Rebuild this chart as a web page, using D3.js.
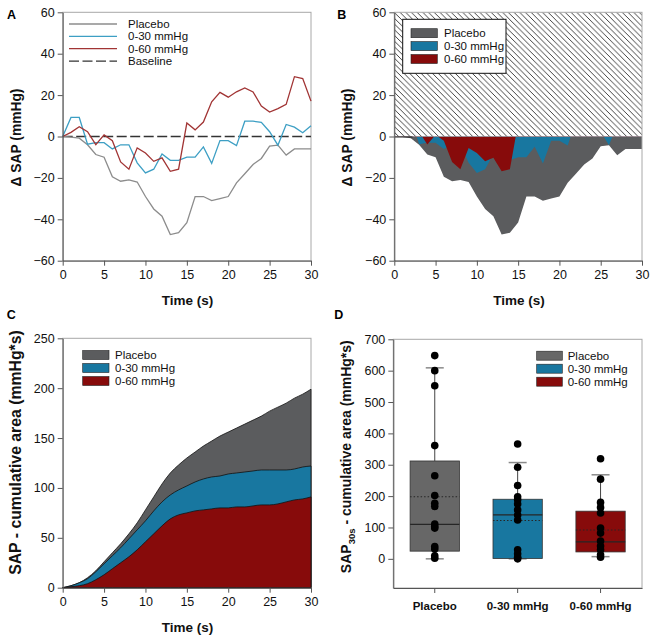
<!DOCTYPE html>
<html><head><meta charset="utf-8">
<script src="https://cdn.jsdelivr.net/npm/d3@7/dist/d3.min.js"></script>
<style>body{margin:0;background:#fff} text{font-family:"Liberation Sans",Arial,sans-serif}</style>
</head><body><svg id="c" width="656" height="642"></svg>
<script>
// ---------- DATA ----------
const timeS = [0,1,2,3,4,5,6,7,8,9,10,11,12,13,14,15,16,17,18,19,20,21,22,23,24,25,26,27,28,29,30];
const seriesNames = ["Placebo","0-30 mmHg","0-60 mmHg"];
// Panel A/B: delta SAP (mmHg)
const placeboDelta = [0,-0.3,-0.8,-4,-8.7,-10,-19.5,-21.6,-21,-22,-29,-35,-38.5,-47.4,-46.5,-41.6,-29,-29,-31,-30,-29,-22.4,-18,-13.5,-10.6,-4.7,-4.2,-9,-6,-6,-6];
const low30Delta   = [0,9.2,9.2,-3.7,-3,-3,-6,-4,-4,-12.7,-17.6,-15.8,-8.4,-11.5,-11.5,-10,-10,-5,-13,-2,-2,-4.4,7.4,7.4,6.8,2.3,-4.2,5.8,4.5,1.8,5.2];
const low60Delta   = [0,2,4.7,2.3,-3.9,0.8,-2,-12.3,-15.8,-5.5,-8,-12,-10.3,-16.8,-15.8,6.5,3.2,7,16.8,21.3,19,21.6,23.5,21.5,14.7,11.8,13.5,15.5,28.9,28,17.1];
// Panel C: cumulative area (mmHg*s)
const placeboCum = [0,2,5,10,17,26,35,44,54,65,78,91,104,115,123,130,136,142,147,152,156,160,164,168,172,177,181,185,190,194,199];
const low30Cum   = [0,2,5,9,16,24,32,40,49,58,67,77,86,93,98,102,106,109,111,112,114,115,116,117,118,118,118,118,119,121,122];
const low60Cum   = [0,1,2,4,8,13,19,25,31,38,46,54,62,69,73,75,77,78,79,80,80,81,81,82,83,83,84,86,88,89,91];
// Panel D: box plots (mmHg*s)
const boxQ1 = [24.5, 1, 22];
const boxMedian = [110, 140, 54];
const boxQ3 = [312, 190, 152];
const boxMean = [198, 122, 92];
const whiskerLow = [0, 0, 7];
const whiskerHigh = [609, 307, 268];
const dotsPlacebo = [648,600,552,361,265,202,177,167,111,103,98,39,31,10,2];
const dots030 = [366,292,234,198,188,175,156,140,124,29,16,5,0];
const dots060 = [319,254,180,164,146,98,82,57,41,29,13,5];
// tick values
const ticksTime = [0,5,10,15,20,25,30];
const ticksDelta = [-60,-40,-20,0,20,40,60];
const ticksCum = [0,50,100,150,200,250];
const ticksBox = [0,100,200,300,400,500,600,700];

// ---------- STYLE ----------
const areaColors = ["#5b5c5e","#1877a0","#870b0b"];
const lineColors = ["#8c8c8c","#3d9fc4","#a13434"];
const boxColors = ["#676767","#1877a0","#870b0b"];
const svg = d3.select("#c");

const defs = svg.append("defs");
const pat = defs.append("pattern").attr("id","hatch").attr("patternUnits","userSpaceOnUse")
  .attr("width",5.7).attr("height",5.7);
pat.append("path").attr("d","M0,0L5.7,5.7M-1,4.7L1,6.7M4.7,-1L6.7,1").attr("stroke","#222").attr("stroke-width",0.85);

function frame(g, x, y){
  const [x0,x1]=x.range(), [y1,y0]=y.range();
  g.append("rect").attr("x",x0).attr("y",y0).attr("width",x1-x0).attr("height",y1-y0)
    .attr("fill","none").attr("stroke","#a8a8a8").attr("stroke-width",1);
}
function axes(g, x, y, xt, yt){
  const [y1]=y.range(); const [x0]=x.range();
  const ax = g.append("g").attr("transform",`translate(0,${y1})`)
    .call(d3.axisBottom(x).tickValues(xt).tickSize(5).tickPadding(4).tickSizeOuter(0));
  const ay = g.append("g").attr("transform",`translate(${x0},0)`)
    .call(d3.axisLeft(y).tickValues(yt).tickSize(5).tickPadding(3).tickSizeOuter(0));
  [ax,ay].forEach(a=>{
    a.selectAll("text").attr("font-size",12.5).attr("fill","#111").style("font-family","Liberation Sans, Arial, sans-serif");
    a.selectAll("line").attr("stroke","#555");
    a.select(".domain").attr("stroke","#555");
  });
}
function title(x,y,txt,size,rot){
  const t = svg.append("text").attr("font-weight","bold").attr("font-size",size).attr("fill","#111")
    .attr("text-anchor","middle");
  if(rot) t.attr("transform",`translate(${x},${y}) rotate(-90)`); else t.attr("x",x).attr("y",y);
  t.text(txt); return t;
}
function letter(x,y,l){ svg.append("text").attr("x",x).attr("y",y).attr("font-weight","bold").attr("font-size",12.5).text(l); }

// ---------- PANEL A ----------
{
  const x = d3.scaleLinear([0,30],[62.7,311]);
  const y = d3.scaleLinear([-60,60],[260.7,12.3]);
  const g = svg.append("g");
  frame(g,x,y);
  g.append("line").attr("x1",x(0)).attr("x2",x(30)).attr("y1",y(0)).attr("y2",y(0))
    .attr("stroke","#333").attr("stroke-width",1.3).attr("stroke-dasharray","10,3.5");
  const line = d3.line().x((d,i)=>x(timeS[i])).y(d=>y(d));
  [placeboDelta, low30Delta, low60Delta].forEach((s,k)=>{
    g.append("path").attr("d",line(s)).attr("fill","none").attr("stroke",lineColors[k]).attr("stroke-width",1.3);
  });
  axes(g,x,y,ticksTime,ticksDelta);
  const labels = seriesNames.concat(["Baseline"]);
  labels.forEach((n,i)=>{
    const yy = 24 + i*12.35;
    g.append("line").attr("x1",69).attr("x2",117).attr("y1",yy).attr("y2",yy)
      .attr("stroke", i<3?lineColors[i]:"#333").attr("stroke-width",1.3)
      .attr("stroke-dasharray", i<3?null:"10,3.5");
    g.append("text").attr("x",128).attr("y",yy+4).attr("font-size",11.5).attr("fill","#111").text(n);
  });
  title(187.5,305,"Time (s)",13.5);
  title(20.5,137.5,"Δ SAP (mmHg)",13.8,true);
  letter(7,18.5,"A");
}

// ---------- PANEL B ----------
{
  const x = d3.scaleLinear([0,30],[394.3,642]);
  const y = d3.scaleLinear([-60,60],[260.7,12.3]);
  const g = svg.append("g");
  defs.append("clipPath").attr("id","below").append("rect")
    .attr("x",x(0)).attr("y",y(0)).attr("width",x(30)-x(0)).attr("height",y(-60)-y(0));
  g.append("rect").attr("x",x(0)).attr("y",y(60)).attr("width",x(30)-x(0)).attr("height",y(0)-y(60))
    .attr("fill","url(#hatch)");
  const area = d3.area().x((d,i)=>x(timeS[i])).y0(y(0)).y1(d=>y(d));
  const ga = g.append("g").attr("clip-path","url(#below)");
  [placeboDelta, low30Delta, low60Delta].forEach((s,k)=>{
    ga.append("path").attr("d",area(s)).attr("fill",areaColors[k]);
  });
  g.append("line").attr("x1",x(0)).attr("x2",x(2.2)).attr("y1",y(0)+0.5).attr("y2",y(0)+0.5).attr("stroke","#222").attr("stroke-width",1);
  frame(g,x,y);
  axes(g,x,y,ticksTime,ticksDelta);
  g.append("rect").attr("x",402.7).attr("y",19.3).attr("width",103.3).attr("height",54)
    .attr("fill","#fff").attr("stroke","#111").attr("stroke-width",1);
  seriesNames.forEach((n,i)=>{
    const yy = 33.2 + i*12.9;
    g.append("rect").attr("x",411).attr("y",yy-4.5).attr("width",26.3).attr("height",9)
      .attr("fill",areaColors[i]).attr("stroke","#222").attr("stroke-width",0.6);
    g.append("text").attr("x",444).attr("y",yy+4).attr("font-size",11.5).attr("fill","#111").text(n);
  });
  title(519,305,"Time (s)",13.5);
  title(351.5,137.5,"Δ SAP (mmHg)",13.8,true);
  letter(337.3,18.5,"B");
}

// ---------- PANEL C ----------
{
  const x = d3.scaleLinear([0,30],[62.7,311]);
  const y = d3.scaleLinear([0,250],[587.7,338.3]);
  const g = svg.append("g");
  frame(g,x,y);
  const area = d3.area().curve(d3.curveMonotoneX).x((d,i)=>x(timeS[i])).y0(y(0)).y1(d=>y(d));
  [placeboCum, low30Cum, low60Cum].forEach((s,k)=>{
    g.append("path").attr("d",area(s)).attr("fill",areaColors[k]).attr("stroke","#111").attr("stroke-width",0.8);
  });
  axes(g,x,y,ticksTime,ticksCum);
  seriesNames.forEach((n,i)=>{
    const yy = 355 + i*13;
    g.append("rect").attr("x",82.7).attr("y",yy-4.5).attr("width",26.3).attr("height",9)
      .attr("fill",areaColors[i]).attr("stroke","#222").attr("stroke-width",0.6);
    g.append("text").attr("x",115).attr("y",yy+4).attr("font-size",11.5).attr("fill","#111").text(n);
  });
  title(187.5,632,"Time (s)",13.5);
  title(20.5,452.5,"SAP - cumulative area (mmHg*s)",15.8,true);
  letter(6.7,319,"C");
}

// ---------- PANEL D ----------
{
  const x = d3.scaleBand(seriesNames,[393.3,642]);
  const y = d3.scaleLinear([-93,700],[588,339.3]);
  const g = svg.append("g");
  frame(g,x,y);
  const dots = [dotsPlacebo, dots030, dots060];
  const bw = 49.3;
  seriesNames.forEach((n,i)=>{
    const cx = x(n)+x.bandwidth()/2;
    g.append("line").attr("x1",cx).attr("x2",cx).attr("y1",y(boxQ3[i])).attr("y2",y(whiskerHigh[i])).attr("stroke","#444").attr("stroke-width",1);
    g.append("line").attr("x1",cx).attr("x2",cx).attr("y1",y(boxQ1[i])).attr("y2",y(whiskerLow[i])).attr("stroke","#444").attr("stroke-width",1);
    [whiskerHigh[i], whiskerLow[i]].forEach(v=>{
      g.append("line").attr("x1",cx-9).attr("x2",cx+9).attr("y1",y(v)).attr("y2",y(v)).attr("stroke","#8a8a8a").attr("stroke-width",1.5);
    });
    g.append("rect").attr("x",cx-bw/2).attr("y",y(boxQ3[i])).attr("width",bw).attr("height",y(boxQ1[i])-y(boxQ3[i]))
      .attr("fill",boxColors[i]).attr("stroke","#333").attr("stroke-width",0.8);
    g.append("line").attr("x1",cx-bw/2).attr("x2",cx+bw/2).attr("y1",y(boxMedian[i])).attr("y2",y(boxMedian[i])).attr("stroke","#262626").attr("stroke-width",1.2);
    g.append("line").attr("x1",cx-bw/2).attr("x2",cx+bw/2).attr("y1",y(boxMean[i])).attr("y2",y(boxMean[i])).attr("stroke","#262626").attr("stroke-width",1.1).attr("stroke-dasharray","1.5,2");
    g.selectAll(null).data(dots[i]).enter().append("circle").attr("cx",cx).attr("cy",d=>y(d)).attr("r",3.8).attr("fill","#000");
  });
  const ax = g.append("g").attr("transform",`translate(0,588)`)
    .call(d3.axisBottom(x).tickSize(5).tickPadding(9).tickSizeOuter(0));
  ax.selectAll("text").attr("font-size",11.5).attr("font-weight","bold").attr("fill","#111").style("font-family","Liberation Sans, Arial, sans-serif");
  ax.selectAll("line").attr("stroke","#555"); ax.select(".domain").attr("stroke","#555");
  const ay = g.append("g").attr("transform",`translate(393.3,0)`)
    .call(d3.axisLeft(y).tickValues(ticksBox).tickSize(5).tickPadding(3).tickSizeOuter(0));
  ay.selectAll("text").attr("font-size",12.5).attr("fill","#111").style("font-family","Liberation Sans, Arial, sans-serif");
  ay.selectAll("line").attr("stroke","#555"); ay.select(".domain").attr("stroke","#555");
  seriesNames.forEach((n,i)=>{
    const yy = 355.7 + i*13;
    g.append("rect").attr("x",536.7).attr("y",yy-4.5).attr("width",25.6).attr("height",9)
      .attr("fill",boxColors[i]).attr("stroke","#222").attr("stroke-width",0.6);
    g.append("text").attr("x",567.7).attr("y",yy+4).attr("font-size",11.5).attr("fill","#111").text(n);
  });
  const t = svg.append("text").attr("font-weight","bold").attr("font-size",14).attr("fill","#111")
    .attr("text-anchor","middle").attr("transform","translate(351,456.7) rotate(-90)");
  t.append("tspan").text("SAP");
  t.append("tspan").attr("font-size",9.5).attr("dy",4).text("30s");
  t.append("tspan").attr("dy",-4).text(" - cumulative area (mmHg*s)");
  letter(334.3,319,"D");
}
</script></body></html>
